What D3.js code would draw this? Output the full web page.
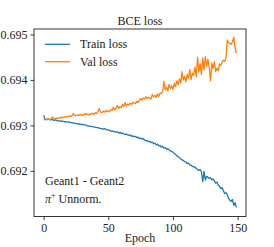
<!DOCTYPE html>
<html>
<head>
<meta charset="utf-8">
<script src="https://cdn.jsdelivr.net/npm/d3@7"></script>
<style>
  body { margin: 0; background: #fff; }
  svg { display: block; }
  text { font-family: "Liberation Serif", "DejaVu Serif", serif; fill: #222; }
</style>
</head>
<body>
<div id="chart"></div>
<script>
// per-epoch losses (epochs 0..149)
var trainLoss = [
  0.69322,0.69314,0.69313,0.69314,0.69313,0.69312,0.69313,0.69312,0.69311,0.69312,
  0.69311,0.69310,0.69310,0.69309,0.69310,0.69309,0.69308,0.69308,0.69307,0.69308,
  0.69307,0.69306,0.69306,0.69305,0.69305,0.69304,0.69304,0.69303,0.69303,0.69302,
  0.69302,0.69301,0.69301,0.69300,0.69299,0.69299,0.69298,0.69298,0.69297,0.69296,
  0.69296,0.69295,0.69295,0.69294,0.69293,0.69293,0.69292,0.69293,0.69291,0.69290,
  0.69290,0.69289,0.69287,0.69288,0.69286,0.69287,0.69285,0.69286,0.69283,0.69285,
  0.69282,0.69283,0.69281,0.69280,0.69281,0.69279,0.69278,0.69279,0.69276,0.69277,
  0.69275,0.69276,0.69273,0.69274,0.69271,0.69272,0.69270,0.69271,0.69268,0.69266,
  0.69267,0.69264,0.69265,0.69262,0.69263,0.69260,0.69261,0.69257,0.69259,0.69255,
  0.69256,0.69252,0.69254,0.69250,0.69251,0.69248,0.69249,0.69246,0.69244,0.69243,
  0.69241,0.69238,0.69236,0.69233,0.69231,0.69229,0.69226,0.69224,0.69223,0.69220,
  0.69219,0.69216,0.69217,0.69213,0.69212,0.69210,0.69208,0.69209,0.69205,0.69203,
  0.69201,0.69203,0.69198,0.69176,0.69199,0.69180,0.69188,0.69186,0.69183,0.69185,
  0.69180,0.69182,0.69178,0.69173,0.69175,0.69169,0.69166,0.69161,0.69163,0.69156,
  0.69150,0.69152,0.69147,0.69140,0.69135,0.69133,0.69137,0.69124,0.69130,0.69120
];
var valLoss = [
  0.69312,0.69313,0.69312,0.69313,0.69314,0.69313,0.69315,0.69318,0.69314,0.69315,
  0.69316,0.69315,0.69317,0.69316,0.69318,0.69317,0.69319,0.69318,0.69320,0.69319,
  0.69321,0.69320,0.69322,0.69326,0.69322,0.69321,0.69323,0.69322,0.69324,0.69323,
  0.69322,0.69325,0.69324,0.69326,0.69324,0.69323,0.69326,0.69325,0.69327,0.69324,
  0.69328,0.69326,0.69330,0.69337,0.69329,0.69328,0.69331,0.69329,0.69333,0.69330,
  0.69332,0.69330,0.69335,0.69333,0.69340,0.69334,0.69338,0.69344,0.69337,0.69341,
  0.69339,0.69346,0.69342,0.69350,0.69343,0.69347,0.69345,0.69349,0.69346,0.69351,
  0.69349,0.69348,0.69353,0.69350,0.69355,0.69359,0.69356,0.69360,0.69358,0.69363,
  0.69359,0.69362,0.69360,0.69358,0.69368,0.69363,0.69366,0.69362,0.69369,0.69364,
  0.69371,0.69370,0.69374,0.69397,0.69378,0.69384,0.69376,0.69390,0.69381,0.69387,
  0.69379,0.69393,0.69385,0.69398,0.69389,0.69402,0.69393,0.69418,0.69400,0.69408,
  0.69396,0.69412,0.69404,0.69423,0.69401,0.69415,0.69410,0.69428,0.69407,0.69450,
  0.69418,0.69436,0.69412,0.69448,0.69422,0.69451,0.69430,0.69445,0.69428,0.69398,
  0.69437,0.69425,0.69440,0.69418,0.69426,0.69420,0.69435,0.69432,0.69440,0.69443,
  0.69441,0.69449,0.69488,0.69482,0.69480,0.69478,0.69484,0.69494,0.69470,0.69459
];
var xTicks = [0, 50, 100, 150];
var yTicks = [0.692, 0.693, 0.694, 0.695];
var seriesNames = ["Train loss", "Val loss"];
var seriesColors = ["#1f77b4", "#ff7f0e"];
var annotation = ["Geant1 - Geant2", "Unnorm."];

var fullWidth = 274, fullHeight = 247;
var margin = {top: 29, right: 28, bottom: 30.5, left: 34};
var width = fullWidth - margin.left - margin.right;
var height = fullHeight - margin.top - margin.bottom;

var xScale = d3.scaleLinear().domain([-7.45, 156.45]).range([0, width]);
var yScale = d3.scaleLinear().domain([0.690996, 0.69512]).range([height, 0]);

var svg = d3.select("#chart").append("svg")
    .attr("width", fullWidth).attr("height", fullHeight);
var g = svg.append("g").attr("transform", "translate(" + margin.left + "," + margin.top + ")");

var xAxis = d3.axisBottom(xScale).tickValues(xTicks).tickSize(3.5).tickPadding(3).tickFormat(d3.format("d"));
var yAxis = d3.axisLeft(yScale).tickValues(yTicks).tickSize(3.5).tickPadding(3).tickFormat(d3.format(".3f"));

var gx = g.append("g").attr("transform", "translate(0," + height + ")").call(xAxis);
var gy = g.append("g").call(yAxis);
[gx, gy].forEach(function(a){
  a.select(".domain").remove();
  a.selectAll("line").attr("stroke", "#222").attr("stroke-width", 0.9);
  a.selectAll("text").attr("font-size", "12px").attr("font-family", "Liberation Serif, serif").attr("fill", "#222");
});

var line = d3.line()
    .x(function(d, i){ return xScale(i); })
    .y(function(d){ return yScale(d); });

[trainLoss, valLoss].forEach(function(s, k){
  g.append("path").datum(s)
    .attr("fill", "none")
    .attr("stroke", seriesColors[k])
    .attr("stroke-width", 1.3)
    .attr("stroke-linejoin", "round")
    .attr("d", line);
});

g.append("rect").attr("width", width).attr("height", height)
  .attr("fill", "none").attr("stroke", "#222").attr("stroke-width", 0.9);

// legend
seriesNames.forEach(function(name, k){
  var ly = 15.3 + k * 17.4;
  g.append("line").attr("x1", 11).attr("x2", 36).attr("y1", ly).attr("y2", ly)
    .attr("stroke", seriesColors[k]).attr("stroke-width", 1.3);
  g.append("text").attr("x", 46).attr("y", ly).attr("dy", "0.33em")
    .attr("font-size", "12px").text(name);
});

// annotation
g.append("text").attr("x", 11).attr("y", 156).attr("font-size", "12px").text(annotation[0]);
var t2 = g.append("text").attr("x", 11).attr("y", 174).attr("font-size", "12px");
t2.append("tspan").attr("font-style", "italic").text("π");
t2.append("tspan").attr("font-size", "8px").attr("dy", "-5").text("+");
t2.append("tspan").attr("dy", "5").text(" " + annotation[1]);

// title and x label
svg.append("text").attr("x", margin.left + width / 2).attr("y", 24.5)
  .attr("text-anchor", "middle").attr("font-size", "12px").text("BCE loss");
svg.append("text").attr("x", margin.left + width / 2).attr("y", 242)
  .attr("text-anchor", "middle").attr("font-size", "12px").text("Epoch");
</script>
</body>
</html>
